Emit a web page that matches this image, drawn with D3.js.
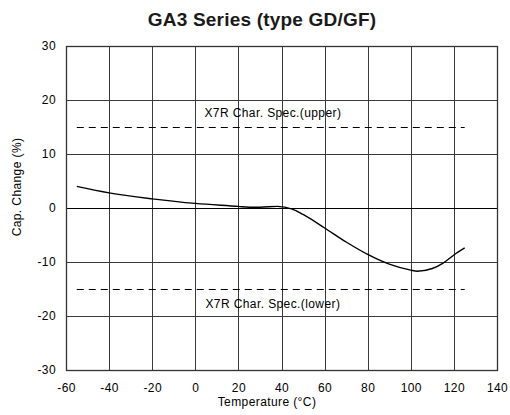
<!DOCTYPE html>
<html>
<head>
<meta charset="utf-8">
<script src="https://cdn.jsdelivr.net/npm/d3@7"></script>
<style>
  body { margin: 0; background: #fff; }
  text { font-family: "Liberation Sans", Arial, sans-serif; letter-spacing: 0.4px; }
</style>
</head>
<body>
<svg width="510" height="415"></svg>
<script>
// curve: temperature (°C) vs cap. change (%)
var temps   = [-55, -40, -20, 0, 20, 25, 30, 38, 45, 50, 60, 70, 80, 90, 100, 103, 110, 115, 120, 125];
var changes = [4.0, 2.8, 1.7, 0.85, 0.3, 0.15, 0.15, 0.3, -0.2, -1.2, -3.7, -6.3, -8.6, -10.4, -11.5, -11.7, -11.2, -10.2, -8.7, -7.4];

var xTicks = [-60, -40, -20, 0, 20, 40, 60, 80, 100, 120, 140];
var yTicks = [-30, -20, -10, 0, 10, 20, 30];

var specLimits = [15, -15];
var specRange = [-55, 125];
var specLabels = ["X7R Char. Spec.(upper)", "X7R Char. Spec.(lower)"];

var svg = d3.select("svg");
var margin = {left: 66, right: 13, top: 46, bottom: 45};
var width = 510 - margin.left - margin.right,
    height = 415 - margin.top - margin.bottom;

var x = d3.scaleLinear().domain([-60, 140]).range([0, width]);
var y = d3.scaleLinear().domain([-30, 30]).range([height, 0]);

var g = svg.append("g").attr("transform", "translate(" + margin.left + "," + margin.top + ")");

function px(v) { return Math.round(v) + 0.5; }

// grid
g.selectAll(".vgrid").data(xTicks).enter().append("line")
    .attr("x1", function(d) { return px(x(d)); }).attr("x2", function(d) { return px(x(d)); })
    .attr("y1", 0).attr("y2", height)
    .attr("stroke", "#3a3a3a").attr("stroke-width", 1);

g.selectAll(".hgrid").data(yTicks).enter().append("line")
    .attr("x1", 0).attr("x2", width)
    .attr("y1", function(d) { return px(y(d)); }).attr("y2", function(d) { return px(y(d)); })
    .attr("stroke", function(d) { return d === 0 ? "#000" : "#3a3a3a"; })
    .attr("stroke-width", 1);

g.append("rect")
    .attr("x", 0.5).attr("y", 0.5)
    .attr("width", Math.round(width)).attr("height", Math.round(height))
    .attr("fill", "none").attr("stroke", "#333").attr("stroke-width", 1.3);

// axes labels
var xAxis = d3.axisBottom(x).tickValues(xTicks).tickSize(0).tickPadding(13).tickFormat(String);
g.append("g").attr("transform", "translate(0," + height + ")").call(xAxis)
    .call(function(s) { s.select(".domain").remove(); })
    .selectAll("text").attr("font-size", 12).attr("fill", "#000")
    .style("font-family", "'Liberation Sans', Arial, sans-serif");

var yAxis = d3.axisLeft(y).tickValues(yTicks).tickSize(0).tickPadding(10).tickFormat(String);
g.append("g").call(yAxis)
    .call(function(s) { s.select(".domain").remove(); })
    .selectAll("text").attr("font-size", 12).attr("fill", "#000")
    .style("font-family", "'Liberation Sans', Arial, sans-serif");

// spec limits
g.selectAll(".spec").data(specLimits).enter().append("line")
    .attr("x1", x(specRange[0])).attr("x2", x(specRange[1]))
    .attr("y1", function(d) { return px(y(d)); }).attr("y2", function(d) { return px(y(d)); })
    .attr("stroke", "#000").attr("stroke-width", 1.2)
    .attr("stroke-dasharray", "7,5");

g.selectAll(".specLabel").data(specLimits).enter().append("text")
    .attr("x", x(36))
    .attr("y", function(d, i) { return y(d) + (i === 0 ? -10 : 19); })
    .attr("text-anchor", "middle").attr("font-size", 12)
    .text(function(d, i) { return specLabels[i]; });

// curve
var pts = temps.map(function(t, i) { return [t, changes[i]]; });
var line = d3.line()
    .x(function(d) { return x(d[0]); })
    .y(function(d) { return y(d[1]); })
    .curve(d3.curveMonotoneX);

g.append("path").datum(pts)
    .attr("d", line)
    .attr("fill", "none").attr("stroke", "#000").attr("stroke-width", 1.4);

// titles
svg.append("text")
    .attr("x", 262).attr("y", 26)
    .attr("text-anchor", "middle").attr("font-size", 19).attr("font-weight", "bold")
    .style("letter-spacing", "0.2px")
    .attr("fill", "#1a1a1a")
    .text("GA3 Series (type GD/GF)");

svg.append("text")
    .attr("x", 267).attr("y", 406)
    .attr("text-anchor", "middle").attr("font-size", 12)
    .text("Temperature (\u00B0C)");

svg.append("text")
    .attr("transform", "translate(21,187) rotate(-90)")
    .attr("text-anchor", "middle").attr("font-size", 12)
    .text("Cap. Change (%)");
</script>
</body>
</html>
